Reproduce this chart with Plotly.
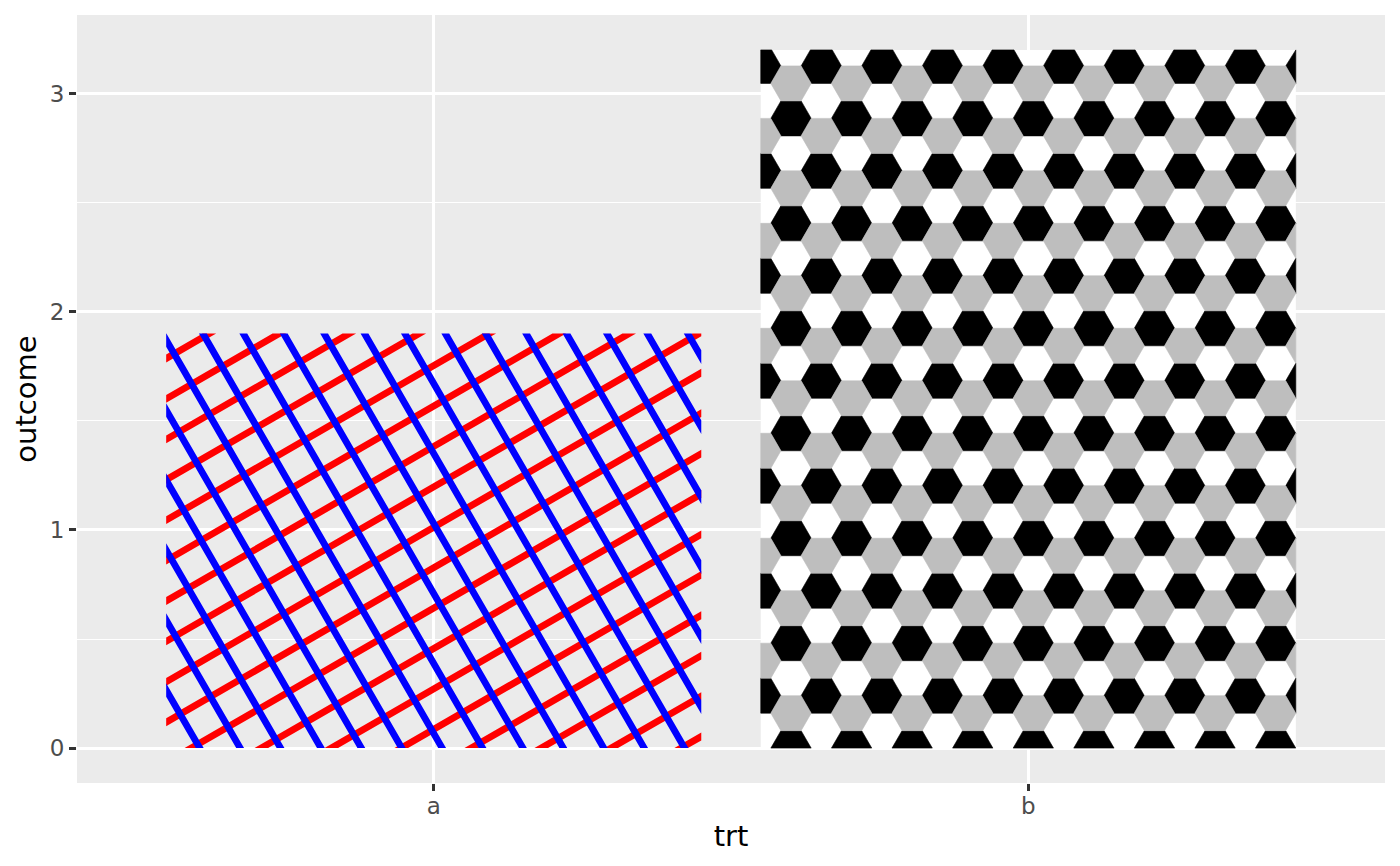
"""Bar chart with pattern fills (crosshatch / hexagon tiling) rebuilt in Plotly."""

import math

import plotly.graph_objects as go

# data
trt = ["a", "b"]
outcome = [1.9, 3.2]

# layout constants (pixels)
W, H = 1400, 866
M_L, M_R, M_T, M_B = 76.5, 15, 15, 83
X_RANGE = (-0.6, 1.6)
Y_RANGE = (-0.16, 3.36)
BAR_W = 0.9

PANEL = "#EBEBEB"
FONT = "DejaVu Sans"

plot_w = W - M_L - M_R
plot_h = H - M_T - M_B
px_x = plot_w / (X_RANGE[1] - X_RANGE[0])
px_y = plot_h / (Y_RANGE[1] - Y_RANGE[0])


def to_px(xd, yd):
    return M_L + (xd - X_RANGE[0]) * px_x, M_T + (Y_RANGE[1] - yd) * px_y


def to_data(px, py):
    return X_RANGE[0] + (px - M_L) / px_x, Y_RANGE[1] - (py - M_T) / px_y


def clip(poly, x0, y0, x1, y1):
    """Sutherland-Hodgman clip of a polygon to an axis aligned rect."""
    def cut(pts, inside, inter):
        out = []
        for i, p in enumerate(pts):
            q = pts[i - 1]
            if inside(p):
                if not inside(q):
                    out.append(inter(q, p))
                out.append(p)
            elif inside(q):
                out.append(inter(q, p))
        return out

    def ix(xc):
        return lambda a, b: (xc, a[1] + (b[1] - a[1]) * (xc - a[0]) / (b[0] - a[0]))

    def iy(yc):
        return lambda a, b: (a[0] + (b[0] - a[0]) * (yc - a[1]) / (b[1] - a[1]), yc)

    pts = poly
    for inside, inter in [
        (lambda p: p[0] >= x0, ix(x0)),
        (lambda p: p[0] <= x1, ix(x1)),
        (lambda p: p[1] >= y0, iy(y0)),
        (lambda p: p[1] <= y1, iy(y1)),
    ]:
        if not pts:
            break
        pts = cut(pts, inside, inter)
    return pts


def polys_to_xy(polys):
    xs, ys = [], []
    for poly in polys:
        for px, py in poly + [poly[0]]:
            xd, yd = to_data(px, py)
            xs.append(xd)
            ys.append(yd)
        xs.append(None)
        ys.append(None)
    return xs, ys


def bar_rect(i, value):
    left, top = to_px(i - BAR_W / 2, value)
    right, bottom = to_px(i + BAR_W / 2, 0)
    return left, top, right, bottom


def crosshatch(rect, angle, spacing, width, offset):
    """Bands perpendicular to the unit normal at `angle`, clipped to rect."""
    left, top, right, bottom = rect
    a = math.radians(angle)
    n = (math.sin(a), math.cos(a))
    d = (n[1], -n[0])
    corners = [(left, top), (right, top), (right, bottom), (left, bottom)]
    proj = [n[0] * x + n[1] * y for x, y in corners]
    base = n[0] * left + n[1] * top + offset
    k0 = math.floor((min(proj) - base) / spacing) - 1
    k1 = math.ceil((max(proj) - base) / spacing) + 1
    hw, big = width / 2, 3000
    polys = []
    for k in range(k0, k1 + 1):
        c = base + k * spacing
        p = (c * n[0], c * n[1])
        band = [
            (p[0] + hw * n[0] - big * d[0], p[1] + hw * n[1] - big * d[1]),
            (p[0] + hw * n[0] + big * d[0], p[1] + hw * n[1] + big * d[1]),
            (p[0] - hw * n[0] + big * d[0], p[1] - hw * n[1] + big * d[1]),
            (p[0] - hw * n[0] - big * d[0], p[1] - hw * n[1] - big * d[1]),
        ]
        cl = clip(band, left, top, right, bottom)
        if len(cl) >= 3:
            polys.append(cl)
    return polys


def hex_tiling(rect, radius, oy):
    """Flat-top hexagons, three colours cycling by half row; returns colour -> polys."""
    left, top, right, bottom = rect
    dx = 1.5 * radius
    dy = math.sqrt(3) * radius / 2
    out = {0: [], 1: [], 2: []}
    ncol = int((right - left) / dx) + 3
    nrow = int((bottom - top) / dy) + 4
    for i in range(-2, ncol):
        for k in range(-3, nrow):
            if (i + k) % 2:
                continue
            cx, cy = left + i * dx, top + oy + k * dy
            hexa = [(cx + radius * math.cos(math.radians(60 * j)),
                     cy + radius * math.sin(math.radians(60 * j))) for j in range(6)]
            cl = clip(hexa, left, top, right, bottom)
            if len(cl) >= 3:
                out[k % 3].append(cl)
    return out


fig = go.Figure()

fig.add_trace(go.Bar(x=[0, 1], y=outcome, width=BAR_W,
                     marker=dict(color=["rgba(0,0,0,0)", "white"], line_width=0),
                     hoverinfo="x+y", showlegend=False))

# bar a: red / blue crosshatch, no background fill
rect_a = bar_rect(0, outcome[0])
for ang, off, col in [(30, 21.6, "#FF0000"), (-60, 3.2, "#0000FF")]:
    xs, ys = polys_to_xy(crosshatch(rect_a, ang, 35, 6.8, off))
    fig.add_trace(go.Scatter(x=xs, y=ys, mode="lines", fill="toself", fillcolor=col,
                             line=dict(width=0, color=col), hoverinfo="skip",
                             showlegend=False))

# bar b: hexagon tiling black / grey / white
rect_b = bar_rect(1, outcome[1])
tiles = hex_tiling(rect_b, 20.2, 16.0)
for idx, col in [(0, "#000000"), (1, "#BEBEBE")]:
    xs, ys = polys_to_xy(tiles[idx])
    fig.add_trace(go.Scatter(x=xs, y=ys, mode="lines", fill="toself", fillcolor=col,
                             line=dict(width=0.6, color=col), hoverinfo="skip",
                             showlegend=False))

axis_common = dict(
    showgrid=True, gridcolor="white", gridwidth=2.8, zeroline=False,
    ticks="outside", ticklen=7, tickwidth=2.8, tickcolor="#333333",
    tickfont=dict(family=FONT, size=23, color="#4D4D4D"),
    showline=False,
)

fig.update_layout(
    width=W, height=H,
    margin=dict(l=M_L, r=M_R, t=M_T, b=M_B, pad=0),
    paper_bgcolor="white", plot_bgcolor=PANEL,
    font=dict(family=FONT),
    xaxis=dict(range=list(X_RANGE), tickmode="array", tickvals=[0, 1], ticktext=trt,
               ticklabelstandoff=-5,
               title=dict(text="trt", font=dict(family=FONT, size=29, color="black"),
                          standoff=8),
               **axis_common),
    yaxis=dict(range=list(Y_RANGE), tickmode="array", tickvals=[0, 1, 2, 3],
               title=dict(text="outcome", font=dict(family=FONT, size=29, color="black"),
                          standoff=4),
               minor=dict(tickmode="array", tickvals=[0.5, 1.5, 2.5], showgrid=True,
                          gridcolor="white", gridwidth=1.4, ticks=""),
               **axis_common),
)

fig.write_html("out.html", config={"displayModeBar": False},
               post_script="document.body.style.margin='0';")
